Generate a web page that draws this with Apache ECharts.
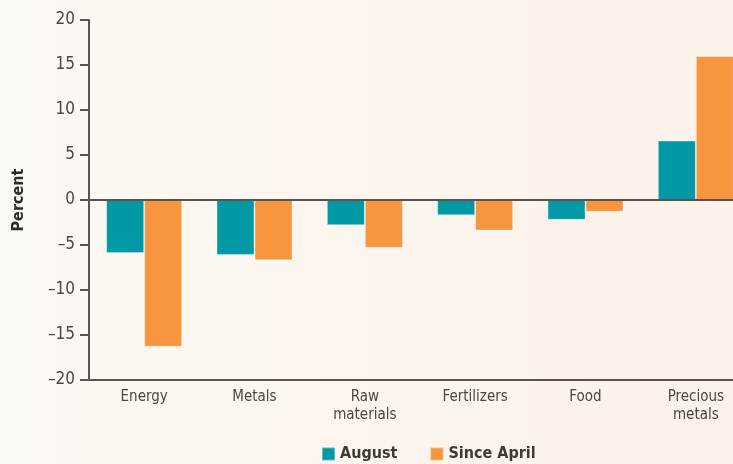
<!DOCTYPE html>
<html>
<head>
<meta charset="utf-8">
<script src="https://cdn.jsdelivr.net/npm/echarts@6/dist/echarts.min.js"></script>
<style>
  html, body { margin: 0; padding: 0; }
  body { background: linear-gradient(to right, #fcf8f3 0%, #fbf2e9 100%); }
  #chart { width: 733px; height: 464px; }
</style>
</head>
<body>
<div id="chart"></div>
<script>
// Commodity price changes, percent
const categories = ['Energy', 'Metals', 'Raw\nmaterials', 'Fertilizers', 'Food', 'Precious\nmetals']
const august = [-5.9, -6.1, -2.8, -1.7, -2.2, 6.6]
const sinceApril = [-16.3, -6.7, -5.3, -3.4, -1.3, 16.0]
const yTicks = [-20, -15, -10, -5, 0, 5, 10, 15, 20]

const font = '"DejaVu Sans Condensed", "Liberation Sans Narrow", sans-serif'
const textColor = '#4b4644'
const axisColor = '#5a5350'

const chart = echarts.init(document.getElementById('chart'))

chart.setOption({
  backgroundColor: 'transparent',
  animation: false,
  textStyle: { fontFamily: font },
  legend: {
    data: ['August', 'Since April'],
    left: 316,
    top: 441,
    itemWidth: 13,
    itemHeight: 13,
    itemGap: 32,
    textStyle: { fontFamily: font, fontSize: 16, fontWeight: 'bold', color: '#3e3a38' },
    icon: 'rect'
  },
  grid: { left: 89, width: 662, top: 20, bottom: 84, containLabel: false, outerBoundsMode: 'none' },
  xAxis: {
    type: 'category',
    data: categories,
    axisLine: { onZero: false, lineStyle: { color: axisColor, width: 2 } },
    axisTick: { show: false },
    axisLabel: { color: textColor, fontSize: 15, lineHeight: 18, margin: 8, interval: 0 }
  },
  yAxis: {
    type: 'value',
    min: yTicks[0],
    max: yTicks[yTicks.length - 1],
    interval: 5,
    name: 'Percent',
    nameLocation: 'middle',
    nameGap: 62,
    nameTextStyle: { fontFamily: font, fontSize: 16, fontWeight: 'bold', color: '#2f2b2a' },
    axisLine: { show: true, lineStyle: { color: axisColor, width: 2 } },
    axisTick: { show: true, length: 9, lineStyle: { color: axisColor, width: 2 } },
    axisLabel: {
      color: textColor,
      fontSize: 17,
      margin: 14,
      formatter: v => String(v).replace('-', '\u2013')
    },
    splitLine: { show: false }
  },
  series: [
    {
      name: 'August',
      type: 'bar',
      data: august,
      barWidth: 38,
      barGap: '0%',
      itemStyle: { color: '#0199a6', borderColor: 'rgba(255,255,255,0.35)', borderWidth: 1 },
      markLine: {
        silent: true,
        symbol: 'none',
        label: { show: false },
        lineStyle: { color: axisColor, width: 2, type: 'solid' },
        data: [{ yAxis: 0 }],
        z: 5
      }
    },
    {
      name: 'Since April',
      type: 'bar',
      data: sinceApril,
      barWidth: 38,
      barGap: '0%',
      itemStyle: { color: '#f7963e', borderColor: 'rgba(255,255,255,0.35)', borderWidth: 1 }
    }
  ]
})
</script>
</body>
</html>
